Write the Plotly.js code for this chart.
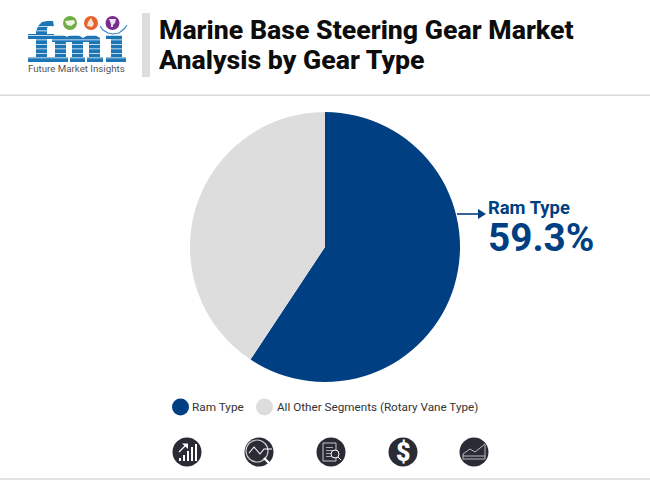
<!DOCTYPE html>
<html><head><meta charset="utf-8">
<script src="https://cdn.plot.ly/plotly-3.0.1.min.js"></script>
<style>html,body{margin:0;padding:0;background:#fff}#c{width:650px;height:480px}</style>
</head><body><div id="c"></div><script>
const categories = ["Ram Type", "All Other Segments (Rotary Vane Type)"];
const shares = [59.3, 40.7];
const sliceColors = ["#003f82", "#dddddd"];
const titleLines = ["Marine Base Steering Gear Market", "Analysis by Gear Type"];

const W = 650, H = 480;
const X = x => x / W, Y = y => 1 - y / H;
const base = {xref: "paper", yref: "paper", layer: "above"};
const rect = (x0, y0, x1, y1, c) => ({...base, type: "rect", x0: X(x0), x1: X(x1), y0: Y(y0), y1: Y(y1), fillcolor: c, line: {width: 0}});
const circ = (cx, cy, r, c) => ({...base, type: "circle", x0: X(cx - r), x1: X(cx + r), y0: Y(cy - r), y1: Y(cy + r), fillcolor: c, line: {width: 0}});
const ring = (cx, cy, r, c, w) => ({...base, type: "circle", x0: X(cx - r), x1: X(cx + r), y0: Y(cy - r), y1: Y(cy + r), fillcolor: "rgba(0,0,0,0)", line: {color: c, width: w}});
const poly = (pts, opt) => ({...base, type: "path",
  path: "M" + pts.map(p => X(p[0]) + "," + Y(p[1])).join("L") + (opt.open ? "" : "Z"),
  fillcolor: opt.fill || "rgba(0,0,0,0)", line: {width: opt.w || 0, color: opt.stroke || "rgba(0,0,0,0)"}});
const note = (x, y, text, size, color, weight, anchor) => ({xref: "paper", yref: "paper", x: X(x), y: Y(y), text,
  showarrow: false, xanchor: anchor || "left", yanchor: "middle", align: "left", borderpad: 0, borderwidth: 0,
  font: {family: "Roboto, sans-serif", size, color, weight: weight || 400}});

const shapes = [];
shapes.push(rect(0, 94.5, 650, 96, "#d9d9d9"), rect(0, 478, 650, 480, "#e2e2e2"), rect(142, 13, 150, 77, "#dddddd"));

// logo letters
const lb = "#1c75b5";
shapes.push(
  rect(36, 30, 47, 62, lb), rect(28, 34, 54, 39, lb), rect(28, 57, 52, 62, lb),
  poly([[36,32],[38,26],[42,22],[47,21],[53,21],[54,27],[49,26],[47,28],[47,32]], {fill: lb}),
  rect(55, 36, 66, 62, lb), rect(72, 38, 83, 62, lb), rect(89, 38, 100, 62, lb),
  poly([[52,35],[64,35],[66,37],[72,35],[78,35],[83,38],[88,35],[95,35],[100,38],[100,42],[52,42]], {fill: lb}),
  rect(52, 57, 68, 62, lb), rect(70, 57, 85, 62, lb), rect(87, 57, 103, 62, lb),
  rect(111, 35, 122, 62, lb), rect(106, 35, 122, 39, lb), rect(106, 57, 126, 62, lb)
);
[26, 30.5, 35, 39.5, 44, 48.5, 53, 57.5].forEach(y => shapes.push(rect(26, y, 128, y + 0.8, "#ffffff")));
shapes.push(circ(70, 23, 7, "#6fae45"), circ(91, 23, 7, "#e8622c"), circ(112.5, 23, 7, "#7b2d8e"));
shapes.push(poly([[65,21],[74,20],[75,23],[71,26],[67,25]], {fill: "#eef5e4"}));
shapes.push(poly([[91,18],[94,24],[92,27],[87,26],[88,22]], {fill: "#fbe3d6"}));
shapes.push(poly([[109,19],[116,19],[115,23],[113,25],[113,27],[111,27],[111,24]], {fill: "#efe3f3"}));
shapes.push(poly([[100,26],[103,30],[108,33],[113,34],[119,33],[124,29],[127,25]], {open: true, stroke: "#3a86c8", w: 1.2}));

// callout arrow
shapes.push(poly([[457,214],[480,214]], {open: true, stroke: "#003f82", w: 1.6}));
shapes.push(poly([[478,209],[486,214],[478,219]], {fill: "#003f82"}));

// legend dots
shapes.push(circ(180.5, 407, 8.5, sliceColors[0]), circ(264.5, 407, 8.5, sliceColors[1]));

// icon row
const ic = "#2b2b35", wh = "#ffffff", gr = "#c9c9ce";
[187, 259, 331, 403, 474].forEach(x => shapes.push(circ(x, 452, 14.5, ic)));
[[180,3],[184,6],[188,10],[192,14],[196,17]].forEach(b => shapes.push(rect(b[0] - 1, 461 - b[1], b[0] + 1, 461, wh)));
shapes.push(poly([[179,452],[186,445]], {open: true, stroke: wh, w: 1.3}), poly([[182,443.5],[188,443.5],[188,449]], {fill: wh}));
shapes.push(ring(257, 451, 11, gr, 1.2));
shapes.push(poly([[249,453],[254,447],[260,454],[264,449],[272,449]], {open: true, stroke: wh, w: 1.1}));
shapes.push(poly([[264,458],[271,465]], {open: true, stroke: wh, w: 2.4}));
shapes.push(poly([[323,443],[336,443],[336,461],[323,461]], {stroke: gr, w: 1}));
[447, 450, 453, 456].forEach(y => shapes.push(rect(326, y, 333, y + 0.8, gr)));
shapes.push({...ring(335, 454, 4, wh, 1), fillcolor: ic});
shapes.push(poly([[338,457],[341,460]], {open: true, stroke: wh, w: 1}));
shapes.push(poly([[463,459],[463,454],[470,449],[475,452],[485,444],[485,459]], {stroke: gr, w: 0.9}));
shapes.push(poly([[463,456],[485,456]], {open: true, stroke: gr, w: 0.9}));

const annotations = [
  note(159, 30, titleLines[0], 26.7, "#0d0d0d", 800),
  note(159, 60.5, titleLines[1], 26.7, "#0d0d0d", 800),
  note(76.5, 68.5, "Future Market Insights", 9.7, "#555555", 400, "center"),
  note(488, 207, categories[0], 18.4, "#003f82", 700),
  note(488, 237.5, shares[0].toFixed(1) + "%", 38.7, "#003f82", 700),
  note(192, 407, categories[0], 11.8, "#333333"),
  note(277, 407, categories[1], 11.7, "#333333"),
  note(403, 452, "$", 25, "#ffffff", 900, "center")
];

Plotly.newPlot("c", [{
  type: "pie", labels: categories, values: shares, sort: false, direction: "clockwise", rotation: 0,
  marker: {colors: sliceColors, line: {width: 0}}, textinfo: "none", hoverinfo: "none",
  domain: {x: [190 / W, 460 / W], y: [1 - 382 / H, 1 - 112 / H]}
}], {
  width: W, height: H, margin: {l: 0, r: 0, t: 0, b: 0}, showlegend: false,
  paper_bgcolor: "#ffffff", shapes, annotations
}, {displayModeBar: false, staticPlot: true});
</script></body></html>
